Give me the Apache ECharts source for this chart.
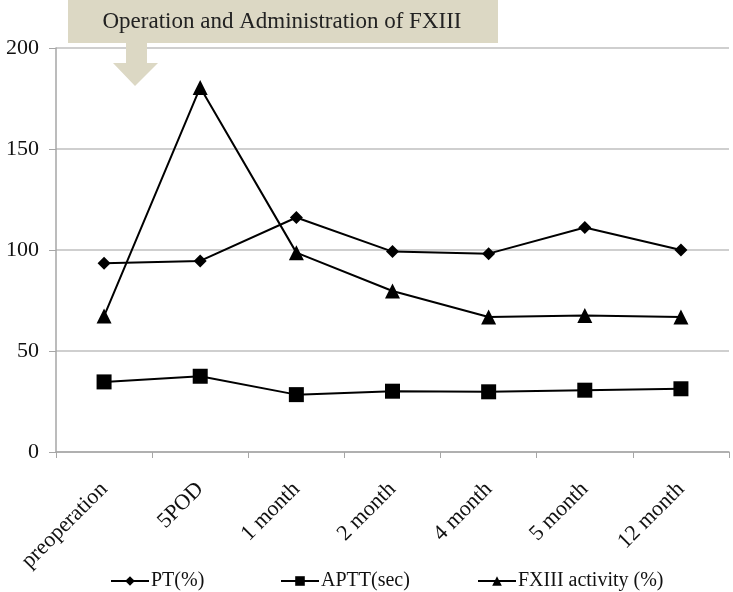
<!DOCTYPE html>
<html><head><meta charset="utf-8">
<script src="https://cdn.jsdelivr.net/npm/echarts@6/dist/echarts.min.js"></script>
<style>html,body{margin:0;padding:0;background:#fff}#c{width:733px;height:592px}</style>
</head><body><div id="c"></div>
<script>
var categories = ['preoperation','5POD','1 month','2 month','4 month','5 month','12 month'];
var ptValues = [93.4, 94.6, 116.1, 99.2, 98.2, 111.1, 100.0];
var apttValues = [34.7, 37.5, 28.4, 30.1, 29.8, 30.6, 31.3];
var fxiiiValues = [67.3, 180.5, 98.7, 79.7, 66.8, 67.6, 66.8];
var yTicks = [0, 50, 100, 150, 200];
var seriesNames = ['PT(%)','APTT(sec)','FXIII activity (%)'];
var bannerText = 'Operation and Administration of FXIII';

var serif = '"Liberation Serif", "Times New Roman", serif';
var chart = echarts.init(document.getElementById('c'), null, {renderer:'canvas'});
function s(name, data, sym, size){
  return {name:name, type:'line', data:data, symbol:sym, symbolSize:size,
    lineStyle:{color:'#000', width:2}, itemStyle:{color:'#000'}, z:3, animation:false};
}
function lg(name, left){
  return {top:571, left:left, padding:0, itemWidth:38, itemHeight:12,
    textStyle:{fontFamily:serif, fontSize:20, color:'#111', padding:[0,0,0,-3]},
    data:[name]};
}
chart.setOption({
  animation:false,
  grid:{left:56, right:4, top:48, bottom:140, containLabel:false},
  xAxis:{type:'category', data:categories, boundaryGap:true,
    axisLine:{lineStyle:{color:'#a6a6a6', width:1.5}},
    axisTick:{show:true, length:6, lineStyle:{color:'#a6a6a6'}},
    axisLabel:{rotate:45, margin:34, fontFamily:serif, fontSize:22, color:'#111', interval:0}},
  yAxis:{type:'value', min:0, max:200, interval:50,
    axisLine:{show:true, lineStyle:{color:'#a6a6a6', width:1.5}},
    axisTick:{show:true, length:7, lineStyle:{color:'#a6a6a6'}},
    splitLine:{lineStyle:{color:'#bfbfbf', width:1.5}},
    axisLabel:{fontFamily:serif, fontSize:22, color:'#111', margin:17,
      formatter:function(v){return yTicks.indexOf(v)>=0?String(v):'';}}},
  legend:[lg(seriesNames[0],110), lg(seriesNames[1],280), lg(seriesNames[2],477)],
  series:[
    s(seriesNames[0], ptValues, 'diamond', 13),
    s(seriesNames[1], apttValues, 'rect', 15),
    s(seriesNames[2], fxiiiValues, 'triangle', 15)
  ],
  graphic:[
    {type:'rect', shape:{x:68, y:0, width:430, height:43}, style:{fill:'#dcd8c4'}, z:10},
    {type:'polygon', shape:{points:[[126,43],[147,43],[147,63],[158,63],[135,86],[113,63],[126,63]]}, style:{fill:'#dcd8c4'}, z:10},
    {type:'text', x:282, y:22, style:{text:bannerText, fontFamily:serif, fontSize:23, fill:'#222', align:'center', verticalAlign:'middle'}, z:11}
  ]
});
</script></body></html>
